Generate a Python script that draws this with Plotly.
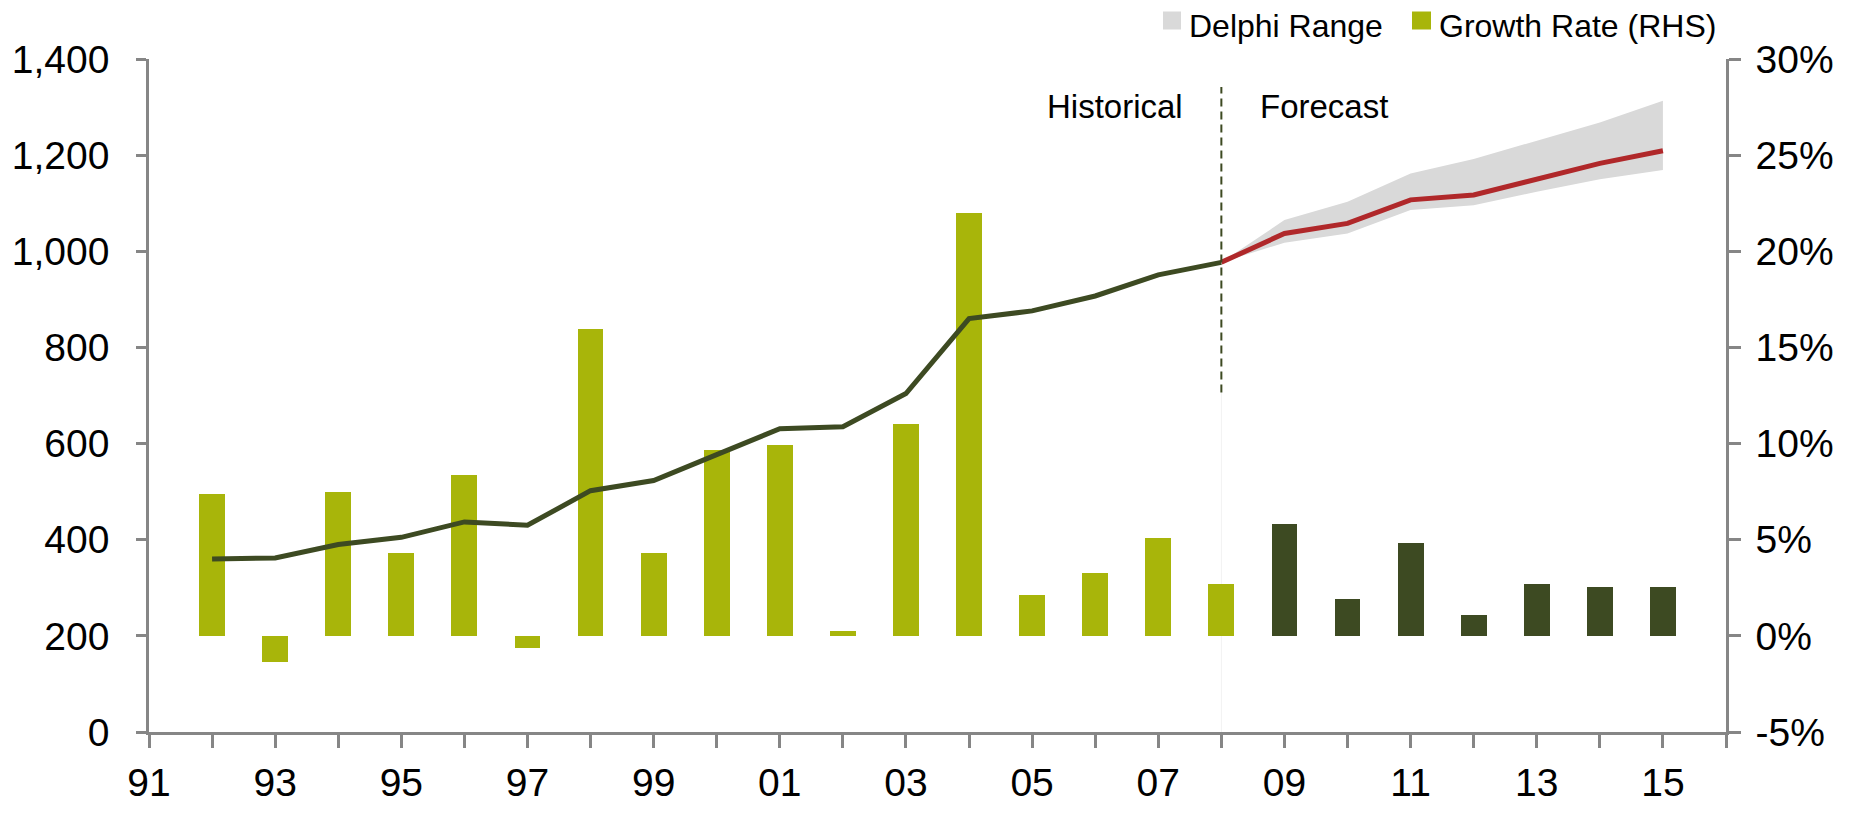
import plotly.graph_objects as go

# ---------------- data ----------------
years_hist = list(range(1992, 2009))
level_hist = [360, 362, 390, 405, 437, 430, 502, 523, 577, 631, 635, 704, 860, 876, 907, 951, 977]
growth_hist = [7.4, -1.35, 7.5, 4.3, 8.35, -0.65, 15.95, 4.3, 9.65, 9.95, 0.25, 11.0, 22.0, 2.15, 3.25, 5.1, 2.7]

years_fc = list(range(2008, 2016))
level_fc = [977, 1037, 1058, 1107, 1117, 1150, 1183, 1209]
delphi_upper = [977, 1065, 1103, 1162, 1192, 1230, 1268, 1313]
delphi_lower = [977, 1018, 1037, 1086, 1096, 1124, 1150, 1169]

years_fc_bars = list(range(2009, 2016))
growth_fc = [5.8, 1.9, 4.85, 1.1, 2.7, 2.55, 2.55]

x_tickvals = list(range(1991, 2017))
x_ticktext = ["91", "", "93", "", "95", "", "97", "", "99", "", "01", "", "03", "",
              "05", "", "07", "", "09", "", "11", "", "13", "", "15", ""]
rhs_tickvals = [-5, 0, 5, 10, 15, 20, 25, 30]
rhs_ticktext = ["-5%", "0%", "5%", "10%", "15%", "20%", "25%", "30%"]

# ---------------- styling ----------------
OFF = 8  # default page body margin
W, H = 1853 - OFF, 815 - OFF
ML, MT = 149 - OFF, 59 - OFF
PW, PH = 1577, 673
MR, MB = W - ML - PW, H - MT - PH
FONT = "Arial, Liberation Sans, sans-serif"
AX = "#868686"
GREEN = "#A8B50A"
DARK = "#3D4A22"
RED = "#B0282A"
BAND = "#D9D9D9"


def px(xs):
    # screen pixel x -> paper fraction
    return (xs - OFF - ML) / PW


def py(ys):
    # screen pixel y -> paper fraction
    return (MT + PH - (ys - OFF)) / PH


fig = go.Figure()

# bars (right axis, primary y)
fig.add_trace(go.Bar(x=years_hist, y=growth_hist, marker_color=GREEN, width=0.41,
                     marker_line_width=0, yaxis="y", name="Growth Rate (RHS)", showlegend=False))
fig.add_trace(go.Bar(x=years_fc_bars, y=growth_fc, marker_color=DARK, width=0.41,
                     marker_line_width=0, yaxis="y", name="Growth Rate forecast", showlegend=False))

# Delphi range band (left axis, y2)
fig.add_trace(go.Scatter(x=years_fc, y=delphi_lower, mode="lines", line=dict(width=0, color=BAND),
                         yaxis="y2", showlegend=False, hoverinfo="skip"))
fig.add_trace(go.Scatter(x=years_fc, y=delphi_upper, mode="lines", line=dict(width=0, color=BAND),
                         fill="tonexty", fillcolor=BAND, yaxis="y2", name="Delphi Range", showlegend=False))

# lines
fig.add_trace(go.Scatter(x=years_hist, y=level_hist, mode="lines", line=dict(color=DARK, width=5),
                         yaxis="y2", showlegend=False, name="Historical"))
fig.add_trace(go.Scatter(x=years_fc, y=level_fc, mode="lines", line=dict(color=RED, width=5),
                         yaxis="y2", showlegend=False, name="Forecast"))

# vertical separators
fig.add_shape(type="line", xref="x", yref="y2", x0=2008, x1=2008, y0=0, y1=706,
              line=dict(color="#F2F2F2", width=1), layer="below")
fig.add_shape(type="line", xref="x", yref="y2", x0=2008, x1=2008, y0=706, y1=1342,
              line=dict(color=DARK, width=2, dash="8px,5px"), layer="above")

# Historical / Forecast labels
fig.add_annotation(x=2008, y=1302, xref="x", yref="y2", text="Historical", showarrow=False,
                   xanchor="right", yanchor="middle", xshift=-36,
                   font=dict(family=FONT, size=33, color="black"))
fig.add_annotation(x=2008, y=1302, xref="x", yref="y2", text="Forecast", showarrow=False,
                   xanchor="left", yanchor="middle", xshift=37,
                   font=dict(family=FONT, size=33, color="black"))

# manual legend
fig.add_shape(type="rect", xref="paper", yref="paper", x0=px(1163), x1=px(1181), y0=py(29.5), y1=py(11.5),
              fillcolor=BAND, line=dict(width=0))
fig.add_annotation(x=px(1187), y=py(26), xref="paper", yref="paper", text="Delphi Range", showarrow=False,
                   xanchor="left", yanchor="middle", font=dict(family=FONT, size=32, color="black"))
fig.add_shape(type="rect", xref="paper", yref="paper", x0=px(1412), x1=px(1431), y0=py(29.5), y1=py(11.5),
              fillcolor=GREEN, line=dict(width=0))
fig.add_annotation(x=px(1437), y=py(26), xref="paper", yref="paper", text="Growth Rate (RHS)", showarrow=False,
                   xanchor="left", yanchor="middle", font=dict(family=FONT, size=32, color="black"))

tickfont = dict(family=FONT, size=39, color="black")
fig.update_layout(
    width=W, height=H,
    margin=dict(l=ML, r=MR, t=MT, b=MB, pad=0, autoexpand=False),
    paper_bgcolor="white", plot_bgcolor="white",
    font=dict(family=FONT, color="black"),
    bargap=0, showlegend=False,
    xaxis=dict(range=[1991, 2016], tickmode="array", tickvals=x_tickvals, ticktext=x_ticktext,
               showgrid=False, zeroline=False, showline=True, linecolor=AX, linewidth=2.5,
               ticks="outside", ticklen=13, tickwidth=2.5, tickcolor=AX, tickfont=tickfont,
               ticklabelstandoff=1, automargin=False),
    yaxis=dict(range=[-5, 30], tickmode="array", tickvals=rhs_tickvals, ticktext=rhs_ticktext,
               side="right", showgrid=False, zeroline=False,
               showline=True, linecolor=AX, linewidth=2.5, ticks="outside", ticklen=12, tickwidth=2.5,
               tickcolor=AX, tickfont=tickfont, ticklabelstandoff=7, automargin=False),
    yaxis2=dict(range=[0, 1400], dtick=200, tickformat=",", side="left", overlaying="y", anchor="x",
                showgrid=False, zeroline=False, showline=True, linecolor=AX, linewidth=2.5,
                ticks="outside", ticklen=10, tickwidth=2.5, tickcolor=AX, tickfont=tickfont,
                ticklabelstandoff=19, automargin=False),
)

fig.write_html("out.html")
